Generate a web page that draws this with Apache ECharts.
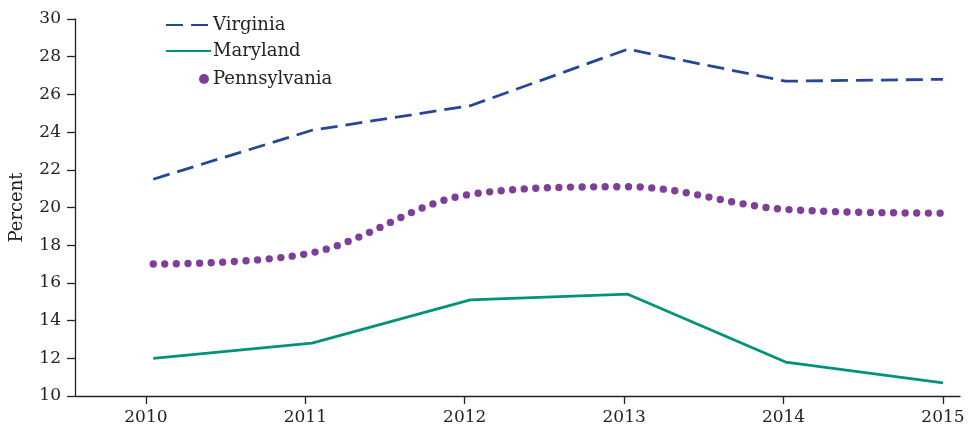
<!DOCTYPE html>
<html>
<head>
<meta charset="utf-8">
<script src="https://cdn.jsdelivr.net/npm/echarts@6/dist/echarts.min.js"></script>
<style>html,body{margin:0;padding:0;background:#fff}#c{width:970px;height:429px}</style>
</head>
<body>
<div id="c"></div>
<script>
const years = [2010, 2011, 2012, 2013, 2014, 2015];
// observation dates (fractional years) at which each value was recorded
const dataYears = [2010.046, 2011.042, 2012.035, 2013.023, 2014.013, 2015.0];
const virginia = [21.5, 24.1, 25.4, 28.4, 26.7, 26.8];
const maryland = [12.0, 12.8, 15.1, 15.4, 11.8, 10.7];
const pennsylvania = [17.0, 17.6, 20.7, 21.1, 19.9, 19.7];
const yTicks = [10, 12, 14, 16, 18, 20, 22, 24, 26, 28, 30];

const FONT = 'DejaVu Serif';
const pair = arr => dataYears.map((y, i) => [y, arr[i]]);

const chart = echarts.init(document.getElementById('c'), null, {renderer: 'canvas'});
chart.setOption({
  animation: false,
  backgroundColor: '#fff',
  textStyle: {fontFamily: FONT, color: '#222'},
  grid: {left: 75, right: 10, top: 19, bottom: 33, containLabel: false, outerBoundsMode: 'none'},
  legend: [
    {
      left: 160, top: 11, orient: 'vertical', itemGap: 8,
      itemWidth: 45, itemHeight: 18,
      itemStyle: {opacity: 0},
      textStyle: {fontFamily: FONT, fontSize: 18, color: '#222', padding: [0, 0, 0, -3]},
      data: ['Virginia', 'Maryland']
    },
    {
      left: 194, top: 65, orient: 'vertical',
      itemWidth: 10, itemHeight: 10,
      textStyle: {fontFamily: FONT, fontSize: 18, color: '#222', padding: [0, 0, 0, -1]},
      data: [{name: 'Pennsylvania', icon: 'circle', itemStyle: {color: '#7f3f98', opacity: 1}}]
    }
  ],
  xAxis: {
    type: 'value', min: 2009.555, max: 2015.107,
    splitLine: {show: false},
    axisLine: {lineStyle: {color: '#222', width: 1.3}},
    axisTick: {show: true, length: 8, customValues: years, lineStyle: {color: '#222', width: 1.3}},
    axisLabel: {customValues: years, fontSize: 17, color: '#222', margin: 13, fontFamily: FONT,
      formatter: v => String(Math.round(v))}
  },
  yAxis: {
    type: 'value', min: 10, max: 30, interval: 2,
    name: 'Percent', nameLocation: 'middle', nameGap: 49, nameRotate: 90,
    nameTextStyle: {fontSize: 18, color: '#222', fontFamily: FONT},
    splitLine: {show: false},
    axisLine: {show: true, lineStyle: {color: '#222', width: 1.3}},
    axisTick: {show: true, length: 8, lineStyle: {color: '#222', width: 1.3}},
    axisLabel: {fontSize: 17, color: '#222', margin: 14, fontFamily: FONT,
      customValues: yTicks}
  },
  series: [
    {
      name: 'Virginia', type: 'line', data: pair(virginia), symbol: 'none',
      itemStyle: {color: '#25479a'},
      lineStyle: {color: '#25479a', width: 2.8, type: [17, 8]}
    },
    {
      name: 'Maryland', type: 'line', data: pair(maryland), symbol: 'none',
      itemStyle: {color: '#00937a'},
      lineStyle: {color: '#00937a', width: 2.8}
    },
    {
      name: 'Pennsylvania', type: 'line', data: pair(pennsylvania), symbol: 'none',
      smooth: 0.35,
      itemStyle: {color: '#7f3f98'},
      lineStyle: {color: '#7f3f98', width: 7.4, type: [0, 11.6], cap: 'round'}
    }
  ]
});
</script>
</body>
</html>
